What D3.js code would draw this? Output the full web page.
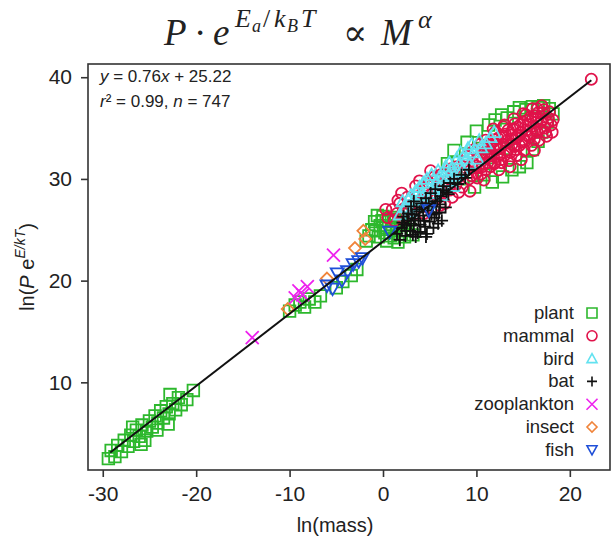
<!DOCTYPE html>
<html lang="en">
<head>
<meta charset="utf-8">
<title>Metabolic scaling</title>
<script src="https://cdn.jsdelivr.net/npm/d3@7"></script>
<style>
  body { margin: 0; background: #fff; }
  text { fill: #222; }
</style>
</head>
<body>
<script>
// series, [ln(mass), ln(P e^(E/kT))]
var plant = [
  [-29.4,2.5],[-29.1,3.3],[-28.7,2.7],[-28.4,3.8],[-28.0,3.2],[-27.7,4.3],[-27.3,3.7],[-27.0,4.8],
  [-26.7,4.2],[-26.4,5.3],[-26.1,4.7],[-25.8,5.8],[-25.5,4.3],[-25.3,5.2],[-25.0,6.2],[-24.7,5.6],
  [-24.4,6.7],[-24.1,6.0],[-23.8,7.2],[-23.5,6.5],[-23.2,7.6],[-22.9,6.9],[-22.8,8.8],[-22.5,7.9],
  [-22.2,7.3],[-21.9,8.5],[-21.6,7.8],[-21.0,8.3],[-20.3,9.2],[-24.2,5.3],[-26.8,5.6],[-23.0,5.9],
  [-25.9,3.9],
  [-10.0,17.0],[-9.4,17.6],[-8.9,17.9],[-8.4,17.4],[-7.9,18.2],[-7.3,17.9],[-6.7,18.5],[-5.0,19.3],
  [-4.3,19.9],[-3.4,20.5],[-2.8,21.1],
  [-1.5,24.4],[-0.8,24.9],[-0.3,25.4],[0.2,24.7],[0.6,25.8],[1.0,25.2],[1.4,26.2],[1.8,24.6],
  [2.2,25.6],[2.6,24.9],[0.0,26.3],[1.2,24.2],[2.8,26.0],[3.2,24.5],[-0.9,25.8],[0.4,23.9],
  [-1.2,25.0],[-0.5,24.3],[-0.1,25.9],[0.3,25.2],[0.8,24.4],[0.9,26.0],[1.5,25.4],[1.9,25.9],
  [2.3,24.3],[-1.8,23.9],[-0.6,26.4],[2.5,26.5],[1.6,23.8],
  [6.9,31.5],[7.6,32.8],[8.5,30.0],[9.0,33.6],[10.0,34.7],[10.6,33.0],[11.3,35.3],[12.0,35.8],
  [12.7,36.3],[13.3,36.0],[14.0,36.6],[14.6,37.0],[15.3,36.8],[16.0,37.1],[16.6,37.0],[17.2,37.2],
  [17.8,36.9],[18.2,36.4],[17.6,35.6],[17.0,34.6],[16.6,33.7],[16.0,32.9],[15.4,31.6],[14.6,31.2],
  [13.8,30.9],[12.8,30.2],[11.7,29.7],[10.8,30.4],[9.8,29.2],[13.2,33.0],[11.2,32.1]
];
var mammal = [
  [0.5,26.2],[1.0,27.0],[1.5,26.6],[1.8,27.6],[2.3,27.1],[2.6,28.2],[3.0,27.4],[3.3,26.5],
  [3.7,28.6],[4.0,27.8],[4.3,29.0],[4.6,27.3],[5.0,28.4],[5.3,29.4],[5.7,28.0],[6.0,29.1],
  [6.4,28.5],[6.8,29.8],[7.1,28.9],[7.5,30.3],[7.8,29.4],[8.2,30.6],[8.5,29.2],[8.9,31.0],
  [9.2,30.0],[9.3,28.8],[9.6,31.6],[10.0,30.6],[2.0,28.6],[3.5,29.3],[5.5,30.2],[6.6,27.6],
  [1.2,25.9],[2.1,26.2],[2.8,26.9],[3.6,27.6],[4.2,28.1],[4.9,29.6],[5.8,29.9],[6.2,30.4],
  [7.3,31.0],[7.9,31.2],[8.7,31.7],[9.0,32.2],[4.4,26.6],[6.1,27.4],[7.4,28.2],[8.1,28.7],
  [3.9,29.8],[1.6,27.9],[0.3,27.0],[5.1,30.8],
  [10.3,32.0],[10.6,31.2],[10.9,32.6],[11.2,31.6],[11.4,33.3],[11.6,32.3],[11.9,31.5],[12.1,33.0],
  [12.3,34.0],[12.5,32.4],[12.7,31.6],[12.9,33.4],[13.1,34.4],[13.3,32.8],[13.5,31.8],[13.7,33.9],
  [13.9,34.9],[14.1,33.2],[14.3,32.3],[14.5,34.3],[14.7,35.3],[14.9,33.6],[15.1,32.8],[15.3,34.8],
  [15.5,35.8],[15.7,34.1],[15.9,33.3],[16.1,35.2],[16.3,36.2],[16.5,34.6],[16.7,33.8],[16.9,35.6],
  [17.1,36.5],[17.3,35.0],[17.5,34.2],[17.7,36.0],[18.0,35.3],[18.1,34.6],[11.0,33.8],[12.0,34.6],
  [13.0,35.3],[14.0,35.9],[15.0,36.4],[16.0,36.9],[17.0,37.2],[12.4,30.9],[13.6,31.2],[14.8,31.9],
  [16.2,32.8],[9.8,32.9],[10.4,33.4],[11.8,34.9],
  [10.1,30.1],[10.2,31.1],[10.5,30.5],[10.7,31.9],[11.0,30.9],[11.1,32.4],[11.5,31.2],[11.5,32.7],
  [11.7,33.6],[12.0,31.6],[12.2,32.2],[12.2,33.4],[12.6,31.9],[12.6,33.1],[12.8,34.2],[13.0,32.3],
  [13.2,33.7],[13.4,34.8],[13.6,32.6],[13.8,33.4],[13.8,34.3],[14.2,32.9],[14.3,34.0],[14.4,35.1],
  [14.6,33.3],[14.8,34.6],[15.0,35.6],[15.2,33.7],[15.4,34.3],[15.6,35.3],[15.8,36.1],[16.0,34.5],
  [16.2,33.9],[16.4,35.6],[16.6,36.5],[16.8,34.9],[17.0,35.8],[17.2,36.8],[17.4,34.6],[17.6,35.5],
  [17.8,36.6],[18.2,35.8],[9.5,30.3],[9.9,31.3],[10.8,29.9],[11.3,33.0],[12.9,35.1],[14.1,35.4],
  [15.3,36.3],[16.5,36.9],
  [22.3,39.8]
];
var bird = [
  [1.8,26.5],[2.4,27.2],[2.9,26.8],[3.3,27.9],[3.7,27.4],[4.1,28.5],[4.5,28.0],[4.9,29.1],
  [5.3,28.6],[5.7,29.7],[6.1,29.2],[6.5,30.3],[6.9,29.8],[7.3,30.9],[7.7,30.3],[8.1,31.4],
  [8.5,30.9],[8.9,32.0],[9.3,31.5],[9.7,32.6],[10.1,32.0],[10.5,33.1],[11.0,33.5],[11.5,34.1],
  [11.9,34.6],[6.3,28.4],[7.5,29.3],[5.0,27.6],[3.0,28.4],[8.3,32.6],
  [2.1,27.8],[2.7,28.0],[3.5,28.8],[3.9,29.2],[4.3,29.6],[4.7,30.0],[5.2,30.4],[5.5,29.0],
  [5.9,30.8],[6.7,31.2],[7.1,31.6],[7.9,32.0],[8.7,32.4],[9.1,33.0],[9.5,33.4],[10.3,33.8],
  [6.0,30.1],[7.0,30.4],[8.0,30.7],[4.4,27.4]
];
var bat = [
  [1.5,24.6],[2.0,25.2],[2.4,24.4],[2.6,25.9],[2.9,24.9],[3.1,26.5],[3.3,25.4],[3.5,24.3],
  [3.6,27.0],[3.8,25.9],[4.0,24.8],[4.1,27.6],[4.3,26.4],[4.5,25.3],[4.6,28.1],[4.8,26.9],
  [5.0,25.8],[5.1,28.6],[5.3,27.3],[5.5,26.2],[5.6,29.0],[5.8,27.8],[6.0,26.7],[6.2,28.3],
  [6.5,29.3],[6.8,28.7],[7.2,29.6],[7.6,30.0],[8.0,29.5],[8.4,30.4],[8.8,30.1],[9.2,30.9],
  [3.0,27.3],[2.2,26.3],[4.7,24.6],[5.9,25.6],
  [1.8,24.0],[2.1,25.7],[2.5,24.9],[2.7,26.6],[3.0,25.6],[3.2,24.5],[3.4,26.1],[3.7,24.7],
  [3.9,26.8],[4.0,25.5],[4.2,27.2],[4.4,25.9],[4.6,24.3],[4.9,27.6],[5.2,26.5],[5.4,25.2],
  [5.6,27.8],[5.7,26.6],[6.1,27.5],[6.3,25.9],[6.4,28.9],[6.7,27.2],[7.0,28.5],[2.3,25.5],
  [3.3,27.8]
];
var zooplankton = [[-14.0,14.4],[-9.4,18.3],[-9.0,19.0],[-8.6,18.6],[-8.1,19.4],[-5.3,22.5]];
var insect = [[-10.2,17.2],[-6.0,20.2],[-3.0,23.2],[-2.1,24.9],[-1.9,24.1]];
var fish = [
  [-6.0,19.5],[-5.4,19.2],[-4.9,20.7],[-4.4,20.0],[-3.8,20.9],[-3.2,21.6],[-2.6,21.9],[-2.2,22.2],
  [0.7,24.8],[4.9,26.9]
];
var fitLine = [[-29.2,3.1],[22.3,39.7]];   // drawn regression line ends
var groups = ["plant","mammal","bird","bat","zooplankton","insect","fish"];
var xTicks = [-30,-20,-10,0,10,20];
var yTicks = [10,20,30,40];

var w = 614, h = 540;
var margin = {top: 64, right: 4, bottom: 70, left: 88};
var sans = "Liberation Sans, Arial, sans-serif";

var svg = d3.select("body").append("svg")
  .attr("width", w).attr("height", h)
  .attr("font-family", sans);

var x = d3.scaleLinear().domain([-31.58, 24.3]).range([margin.left, w - margin.right]);
var y = d3.scaleLinear().domain([1.38, 41.3]).range([h - margin.bottom, margin.top]);

// marker shapes, s = half size
var shapes = {
  plant: function(s){ return "M"+(-s)+","+(-s)+"h"+2*s+"v"+2*s+"h"+(-2*s)+"Z"; },
  mammal: function(s){ return "M"+s+",0A"+s+","+s+" 0 1,1 "+(-s)+",0A"+s+","+s+" 0 1,1 "+s+",0Z"; },
  bird: function(s){ return "M0,"+(-s)+"L"+s+","+(0.8*s)+"L"+(-s)+","+(0.8*s)+"Z"; },
  bat: function(s){ return "M"+(-s)+",0H"+s+"M0,"+(-s)+"V"+s; },
  zooplankton: function(s){ return "M"+(-s)+","+(-s)+"L"+s+","+s+"M"+(-s)+","+s+"L"+s+","+(-s); },
  insect: function(s){ return "M0,"+(-s)+"L"+s+",0L0,"+s+"L"+(-s)+",0Z"; },
  fish: function(s){ return "M"+(-s)+","+(-0.8*s)+"L"+s+","+(-0.8*s)+"L0,"+s+"Z"; }
};
var colors = {
  plant: "#2db82d", mammal: "#e0124a", bird: "#62e2f0", bat: "#111111",
  zooplankton: "#ee22ee", insect: "#f0843a", fish: "#1f4fd8"
};
var sizes = {plant: 5.8, mammal: 5.6, bird: 6.2, bat: 6.2, zooplankton: 6.5, insect: 6, fish: 6.5};
var series = {plant: plant, mammal: mammal, bird: bird, bat: bat,
              zooplankton: zooplankton, insect: insect, fish: fish};

// points
groups.forEach(function(g) {
  svg.append("g").selectAll("path")
    .data(series[g])
    .enter()
    .append("path")
    .attr("transform", function(d){ return "translate(" + x(d[0]) + "," + y(d[1]) + ")"; })
    .attr("d", shapes[g](sizes[g]))
    .attr("fill", "none")
    .attr("stroke", colors[g])
    .attr("stroke-width", 1.8);
});

// fit line
svg.append("path")
  .datum(fitLine)
  .attr("d", d3.line().x(function(d){ return x(d[0]); }).y(function(d){ return y(d[1]); }))
  .attr("stroke", "#111").attr("stroke-width", 2).attr("fill", "none");

// frame
svg.append("rect")
  .attr("x", margin.left).attr("y", margin.top)
  .attr("width", w - margin.left - margin.right)
  .attr("height", h - margin.top - margin.bottom)
  .attr("fill", "none").attr("stroke", "#333").attr("stroke-width", 1.6);

// axes
var fmt = function(d){ return String(d); };   // plain hyphen minus like the original
var xAxis = svg.append("g")
  .attr("transform", "translate(0," + (h - margin.bottom) + ")")
  .call(d3.axisBottom(x).tickValues(xTicks).tickFormat(fmt).tickSize(7).tickPadding(9));
var yAxis = svg.append("g")
  .attr("transform", "translate(" + margin.left + ",0)")
  .call(d3.axisLeft(y).tickValues(yTicks).tickFormat(fmt).tickSize(7).tickPadding(9));
[xAxis, yAxis].forEach(function(a) {
  a.select(".domain").remove();
  a.selectAll("line").attr("stroke", "#333").attr("stroke-width", 1.6);
  a.selectAll("text").attr("font-size", 21).attr("font-family", sans).attr("fill", "#222");
});

// axis titles
svg.append("text")
  .attr("x", 335).attr("y", 532)
  .attr("text-anchor", "middle").attr("font-size", 20)
  .text("ln(mass)");

var yl = svg.append("text")
  .attr("transform", "translate(34," + ((margin.top + h - margin.bottom) / 2) + ") rotate(-90)")
  .attr("text-anchor", "middle").attr("font-size", 20);
yl.append("tspan").text("ln(");
yl.append("tspan").attr("font-style", "italic").text("P");
yl.append("tspan").text(" e");
yl.append("tspan").attr("font-style", "italic").attr("font-size", 14).attr("dy", -9).text("E/kT");
yl.append("tspan").attr("dy", 9).text(")");

// fit annotation
var a1 = svg.append("text").attr("x", 100).attr("y", 82).attr("font-size", 17);
a1.append("tspan").attr("font-style", "italic").text("y");
a1.append("tspan").text(" = 0.76");
a1.append("tspan").attr("font-style", "italic").text("x");
a1.append("tspan").text(" + 25.22");
var a2 = svg.append("text").attr("x", 100).attr("y", 107).attr("font-size", 17);
a2.append("tspan").attr("font-style", "italic").text("r");
a2.append("tspan").text("² = 0.99, ");
a2.append("tspan").attr("font-style", "italic").text("n");
a2.append("tspan").text(" = 747");

// legend
var legend = svg.append("g").selectAll("g")
  .data(groups)
  .enter()
  .append("g")
  .attr("transform", function(d, i){ return "translate(0," + (313 + i * 22.8) + ")"; });
legend.append("text")
  .attr("x", 574).attr("y", 6)
  .attr("text-anchor", "end").attr("font-size", 18.5)
  .text(function(d){ return d; });
legend.append("path")
  .attr("transform", "translate(592,0)")
  .attr("d", function(d){ return shapes[d](d === "zooplankton" ? 5.5 : 5); })
  .attr("fill", "none")
  .attr("stroke", function(d){ return colors[d]; })
  .attr("stroke-width", 1.6);

// title, set piece by piece like a typeset formula
var t = svg.append("text")
  .attr("font-family", "Liberation Serif, DejaVu Serif, serif")
  .attr("font-size", 37);
function piece(str, px, py, size, italic) {
  t.append("tspan").attr("x", px).attr("y", py).attr("font-size", size)
    .attr("font-style", italic ? "italic" : "normal").text(str);
}
piece("P", 164, 45, 37, true);
piece("·", 194, 45, 37, false);
piece("e", 213, 45, 37, true);
piece("E", 235, 27, 26, true);
piece("a", 252, 32, 18, true);
piece("/", 263, 27, 26, false);
piece("k", 274, 27, 26, true);
piece("B", 287, 32, 18, true);
piece("T", 301, 27, 26, true);
piece("∝", 343, 45, 36, false);
piece("M", 381, 45, 37, true);
piece("α", 418, 28, 26, true);
</script>
</body>
</html>
